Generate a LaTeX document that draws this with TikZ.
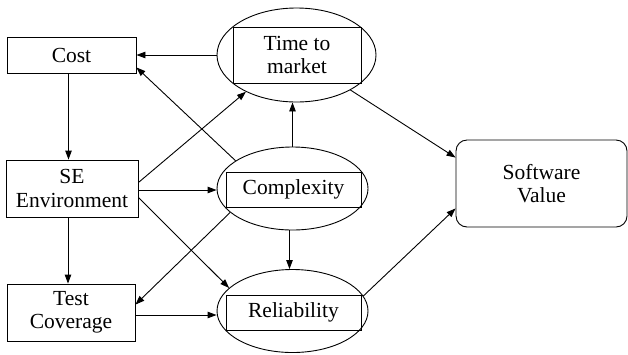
\documentclass[tikz,border=0pt]{standalone}
\usepackage{fontspec}
\setmainfont{Liberation Serif}
\usetikzlibrary{shapes.geometric,arrows.meta,calc}
\begin{document}
\begin{tikzpicture}[x=1pt,y=-1pt,
  every node/.style={font=\fontsize{21.5}{23.5}\selectfont, align=center, line width=0.9pt},
  box/.style={draw, rectangle, inner sep=0pt},
  ell/.style={draw, ellipse, inner sep=0pt},
  rbox/.style={draw, rectangle, rounded corners=11pt, inner sep=0pt},
  arr/.style={line width=0.9pt, -{Stealth[length=9pt,width=6.5pt,inset=0pt]}}
]
\useasboundingbox (0,0) rectangle (628,354);
% left boxes
\node[box, minimum width=129pt, minimum height=36pt] (cost) at (71.5,55) {Cost};
\node[box, minimum width=132pt, minimum height=57pt] (se) at (72,188.5) {SE\\Environment};
\node[box, minimum width=128pt, minimum height=57pt] (test) at (71,312.5) {Test\\Coverage};
% ellipses
\node[ell, minimum width=159pt, minimum height=94pt] (timeell) at (296.5,55) {};
\node[box, minimum width=128pt, minimum height=56pt] (timebox) at (297,55) {Time to\\market};
\node[ell, minimum width=151pt, minimum height=83pt] (cplxell) at (292.5,188.5) {};
\node[box, minimum width=135pt, minimum height=35pt] (cplxbox) at (293.5,189.5) {Complexity};
\node[ell, minimum width=151pt, minimum height=83pt] (relell) at (292.5,311) {};
\node[box, minimum width=135pt, minimum height=35pt] (relbox) at (293.5,312.5) {Reliability};
% software value
\node[rbox, minimum width=171pt, minimum height=87pt] (sw) at (541.5,183.5) {Software\\Value};
% connectors
\draw[arr] (timeell.west) -- (cost.east);
\draw[arr] (cplxell.154) -- ([yshift=6pt]cost.south east);
\draw[arr] ([xshift=-3pt]cost.south) -- ([xshift=-3pt]cost.south |- se.north);
\draw[arr] ([yshift=6pt]se.east) -- (timeell.216);
\draw[arr] ([yshift=-1.5pt]se.east) -- ([yshift=-1.5pt]se.east -| cplxell.west);
\draw[arr] ([yshift=-9pt]se.east) -- (relell.160);
\draw[arr] (cplxell.201) -- ([yshift=-21pt]test.north east);
\draw[arr] ([xshift=-4pt]se.south) -- ([xshift=-4pt]se.south |- test.north);
\draw[arr] ([yshift=-2.5pt]test.east) -- ([yshift=-2.5pt]test.east -| relell.west);
\draw[arr] (cplxell.north) -- (cplxell.north |- timeell.south);
\draw[arr] ([xshift=-3pt]cplxell.south) -- ([xshift=-3pt]cplxell.south |- relell.north);
\draw[arr] (timeell.-33) -- ([yshift=-18pt]sw.north west);
\draw[arr] (relell.12) -- ([yshift=19pt]sw.south west);
\end{tikzpicture}
\end{document}
